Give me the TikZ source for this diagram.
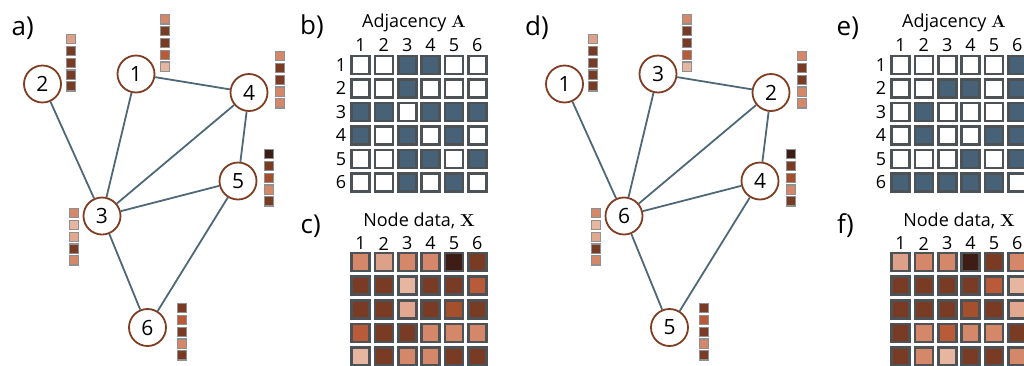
\documentclass[tikz,border=0pt]{standalone}
\usepackage[no-math]{fontspec}
\setmainfont{Open Sans}
\definecolor{edgec}{HTML}{4E6878}
\definecolor{nodec}{HTML}{7F3D22}
\definecolor{adjc}{HTML}{476176}
\definecolor{cellb}{HTML}{4C5256}
\definecolor{barb}{HTML}{8E9092}
\definecolor{cS}{HTML}{D5876A}
\definecolor{cL}{HTML}{DDA088}
\definecolor{cV}{HTML}{E6B6A0}
\definecolor{cM}{HTML}{E2A78F}
\definecolor{cD}{HTML}{7A3B25}
\definecolor{cK}{HTML}{3E1E14}
\definecolor{cR}{HTML}{B95B38}
\definecolor{cQ}{HTML}{A4502D}
\colorlet{a0}{white}
\colorlet{a1}{adjc}
\tikzset{
  gnode/.style={circle, draw=nodec, line width=1.8pt, fill=white, minimum size=37pt, inner sep=0pt, font=\fontsize{21}{21}\selectfont},
  gedge/.style={draw=edgec, line width=1.8pt},
  mcell/.style={rectangle, draw=cellb, line width=2.6pt, minimum size=18pt, inner sep=0pt},
  fbox/.style={rectangle, draw=barb, line width=1.1pt, minimum size=9.2pt, inner sep=0pt},
  plabel/.style={anchor=base west, inner sep=0pt, font=\fontsize{26}{26}\selectfont},
  mtitle/.style={anchor=base, inner sep=0pt, font=\fontsize{18}{18}\selectfont},
  mnum/.style={inner sep=0pt, font=\fontsize{18}{18}\selectfont},
}
\begin{document}
\begin{tikzpicture}[x=1pt,y=-1pt]
\path[use as bounding box, clip] (0,0) rectangle (1024,365);

% ---------- panel labels ----------
\node[plabel] (la) at (11.5,35) {a)};
\node[plabel] (lb) at (300,34) {b)};
\node[plabel] (lc) at (300.5,233.5) {c)};
\node[plabel] (ld) at (525,35) {d)};
\node[plabel] (le) at (836.5,35) {e)};
\node[plabel] (lf) at (837,233.5) {f)};

% ---------- graph a) ----------
\node[gnode] (a1) at (136,74) {1};
\node[gnode] (a2) at (42.5,84) {2};
\node[gnode] (a3) at (102,216) {3};
\node[gnode] (a4) at (249,92.5) {4};
\node[gnode] (a5) at (238,181) {5};
\node[gnode] (a6) at (147.5,327.5) {6};
\foreach \p/\q in {1/3,1/4,2/3,3/4,3/5,3/6,4/5,5/6}
  \draw[gedge] (a\p) -- (a\q);

% ---------- graph d) ----------
\node[gnode] (d1) at (564.5,84) {1};
\node[gnode] (d3) at (658,74) {3};
\node[gnode] (d2) at (771,92.5) {2};
\node[gnode] (d4) at (760,181) {4};
\node[gnode] (d6) at (624,216) {6};
\node[gnode] (d5) at (669.5,327.5) {5};
\foreach \p/\q in {1/6,3/6,3/2,2/6,2/4,4/6,4/5,5/6}
  \draw[gedge] (d\p) -- (d\q);

% ---------- feature bars ----------
\foreach \n/\bx/\by/\cols in {
   1/165/19.4/{S,D,D,R,V},
   2/70.7/39.2/{L,D,D,D,D},
   4/280/56.2/{S,D,D,S,S},
   5/268.7/154.2/{K,D,Q,S,D},
   3/73.7/213.2/{S,V,M,D,S},
   6/181.7/308.2/{D,R,D,S,D}}{
  \foreach \v [count=\i] in \cols {
    \node[fbox, fill=c\v] (fa\n-\i) at (\bx,{\by+(\i-1)*11.8}) {};
    \node[fbox, fill=c\v] (fd\n-\i) at ({\bx+522},{\by+(\i-1)*11.8}) {};
  }
}

% ---------- adjacency matrices ----------
\foreach \ox/\nm/\rows in {
  0/b/{{0,0,1,1,0,0},{0,0,1,0,0,0},{1,1,0,1,1,1},{1,0,1,0,1,0},{0,0,1,1,0,1},{0,0,1,0,1,0}},
  540/e/{{0,0,0,0,0,1},{0,0,1,1,0,1},{0,1,0,0,0,1},{0,1,0,0,1,1},{0,0,0,1,0,1},{1,1,1,1,1,0}}}{
  \node[mtitle] (t\nm) at ({414+\ox},27) {Adjacency $\mathbf{A}$};
  \foreach \k in {1,...,6}{
    \node[mnum] (col\nm\k) at ({360.5+\ox+(\k-1)*23.35},45) {\k};
    \node[mnum] (row\nm\k) at ({341+\ox},{65+(\k-1)*23.45}) {\k};
  }
  \foreach \row [count=\r] in \rows {
    \foreach \v [count=\c] in \row {
      \node[mcell, fill=a\v] (m\nm-\r-\c) at ({360.5+\ox+(\c-1)*23.35},{65+(\r-1)*23.45}) {};
    }
  }
}

% ---------- node data matrices ----------
\foreach \ox/\nm/\rows in {
  0/c/{{S,L,S,S,K,D},{D,D,V,D,D,R},{D,D,M,D,Q,D},{R,D,D,S,S,S},{V,D,S,S,D,D}},
  540/f/{{L,S,S,K,D,S},{D,D,D,D,R,V},{D,D,D,Q,D,M},{D,S,R,S,S,D},{D,S,V,D,D,S}}}{
  \node[mtitle] (t\nm) at ({419+\ox},226.7) {Node data, $\mathbf{X}$};
  \foreach \k in {1,...,6}{
    \node[mnum] (col\nm\k) at ({360.5+\ox+(\k-1)*23.35},243.5) {\k};
  }
  \foreach \row [count=\r] in \rows {
    \foreach \v [count=\c] in \row {
      \node[mcell, fill=c\v] (m\nm-\r-\c) at ({360.5+\ox+(\c-1)*23.35},{262+(\r-1)*23.6}) {};
    }
  }
}
\end{tikzpicture}
\end{document}
